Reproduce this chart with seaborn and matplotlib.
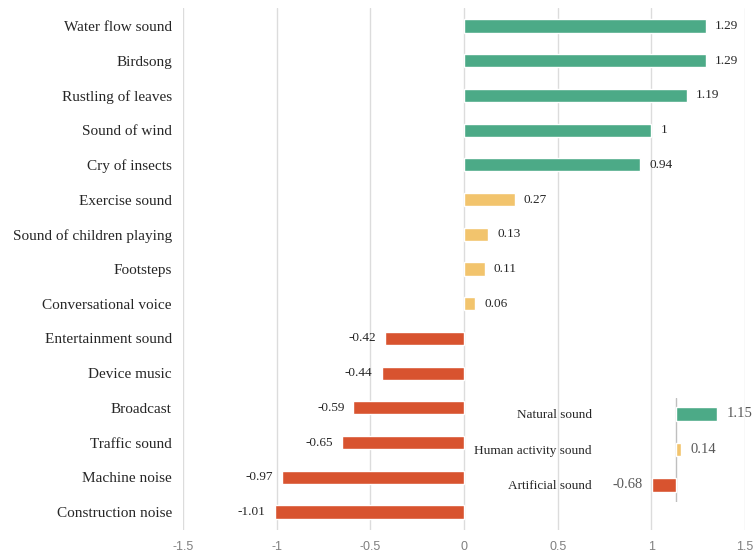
import matplotlib
matplotlib.use("Agg")
import matplotlib.pyplot as plt
import seaborn as sns
import pandas as pd

categories = ["Water flow sound", "Birdsong", "Rustling of leaves", "Sound of wind",
              "Cry of insects", "Exercise sound", "Sound of children playing", "Footsteps",
              "Conversational voice", "Entertainment sound", "Device music", "Broadcast",
              "Traffic sound", "Machine noise", "Construction noise"]
values = [1.29, 1.29, 1.19, 1.0, 0.94, 0.27, 0.13, 0.11, 0.06,
          -0.42, -0.44, -0.59, -0.65, -0.97, -1.01]
value_labels = ["1.29", "1.29", "1.19", "1", "0.94", "0.27", "0.13", "0.11", "0.06",
                "-0.42", "-0.44", "-0.59", "-0.65", "-0.97", "-1.01"]
groups = ["Natural"] * 5 + ["Human"] * 4 + ["Artificial"] * 6

inset_categories = ["Natural sound", "Human activity sound", "Artificial sound"]
inset_values = [1.15, 0.14, -0.68]
inset_groups = ["Natural", "Human", "Artificial"]

xticks = [-1.5, -1, -0.5, 0, 0.5, 1, 1.5]
xtick_labels = ["-1.5", "-1", "-0.5", "0", "0.5", "1", "1.5"]

palette = {"Natural": "#4CAA87", "Human": "#F2C46D", "Artificial": "#D8532F"}

sns.set_style("white")
plt.rcParams["font.family"] = ["Liberation Serif", "DejaVu Serif"]

fig = plt.figure(figsize=(7.53, 5.54), dpi=100)
W, H = 753, 554
ax = fig.add_axes([183 / W, 1 - 530 / H, (745 - 183) / W, (530 - 8) / H])

df = pd.DataFrame({"category": categories, "value": values, "group": groups})
sns.barplot(data=df, x="value", y="category", hue="group", palette=palette,
            dodge=False, width=0.38, legend=False, ax=ax, saturation=1)
ax.set_xlim(-1.5, 1.5)
ax.set_ylim(14.52, -0.52)
ax.set_xticks(xticks)
ax.set_xticklabels(xtick_labels, family=["Liberation Sans", "DejaVu Sans"],
                   color="#808080", fontsize=9)
ax.tick_params(axis="x", length=0, pad=8)
ax.tick_params(axis="y", length=0, pad=8, labelsize=11)
ax.set_xlabel("")
ax.set_ylabel("")
ax.grid(axis="x", color="#dcdcdc", linewidth=1)
ax.set_axisbelow(True)
for s in ax.spines.values():
    s.set_visible(False)

for i, (v, lab) in enumerate(zip(values, value_labels)):
    if v >= 0:
        ax.annotate(lab, (v, i), xytext=(6.5, 0), textcoords="offset points",
                    ha="left", va="center", fontsize=9.5)
    else:
        ax.annotate(lab, (v, i), xytext=(-6.5, 0), textcoords="offset points",
                    ha="right", va="center", fontsize=9.5)

# inset
x0, x1 = 600, 730
zero_px, scale = 676, 36.0
ax2 = fig.add_axes([x0 / W, 1 - 502 / H, (x1 - x0) / W, (502 - 398) / H])
ax2.patch.set_alpha(0)
dfi = pd.DataFrame({"category": inset_categories, "value": inset_values, "group": inset_groups})
sns.barplot(data=dfi, x="value", y="category", hue="group", palette=palette,
            dodge=False, width=0.38, legend=False, ax=ax2, saturation=1)
ax2.set_xlim((x0 - zero_px) / scale, (x1 - zero_px) / scale)
ax2.set_ylim(2.48, -0.45)
ax2.set_xticks([])
ax2.set_xlabel("")
ax2.set_ylabel("")
ax2.tick_params(axis="y", length=0, pad=6, labelsize=9.5)
for s in ax2.spines.values():
    s.set_visible(False)
ax2.axvline(0, color="#bfbfbf", linewidth=1, zorder=0)
for i, v in enumerate(inset_values):
    lab = f"{v:.2f}"
    if v >= 0:
        ax2.annotate(lab, (v, i), xytext=(6.5, 0), textcoords="offset points",
                     ha="left", va="center", fontsize=10.5, color="#595959")
    else:
        ax2.annotate(lab, (v, i), xytext=(-6.5, 0), textcoords="offset points",
                     ha="right", va="center", fontsize=10.5, color="#595959")

fig.savefig("out.png", dpi=100)
